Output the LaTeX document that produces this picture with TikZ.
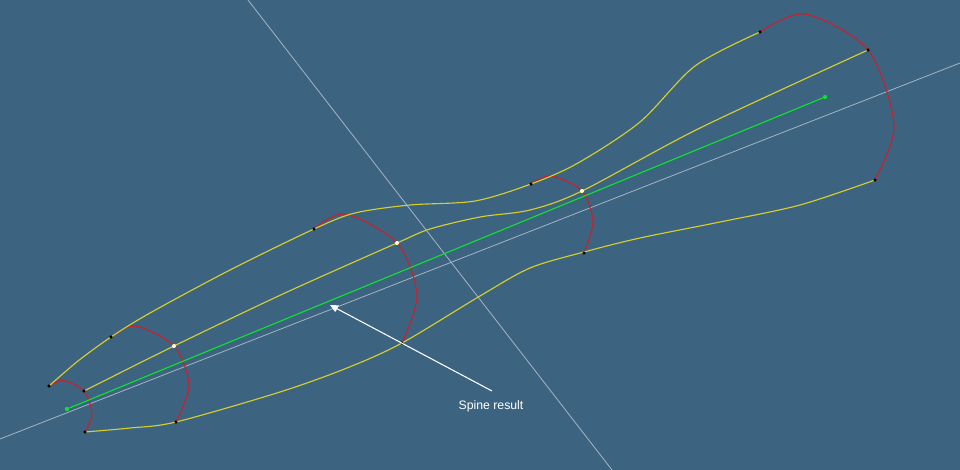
\documentclass[tikz,border=0pt]{standalone}
\usepackage{fontspec}
\setmainfont{Liberation Sans}
\usetikzlibrary{arrows.meta,positioning}
\definecolor{bgblue}{HTML}{3C6480}
\definecolor{railyel}{HTML}{D6CE2E}
\definecolor{secred}{HTML}{C8202E}
\definecolor{spinegrn}{HTML}{10E030}
\definecolor{axisgray}{HTML}{A4B4C4}
\tikzset{rail/.style={draw=railyel,line width=.85pt},sec/.style={draw=secred,line width=.85pt},axisline/.style={draw=axisgray,line width=.6pt},
dot/.style={circle,fill=black,inner sep=0pt,minimum size=2.6pt},wdot/.style={circle,fill=white!80!yellow,inner sep=0pt,minimum size=3pt},gdot/.style={circle,fill=spinegrn,inner sep=0pt,minimum size=3.2pt},arr/.style={-{Triangle[length=6pt,width=5.5pt]},draw=white,line width=.8pt}}

\begin{document}
\begin{tikzpicture}[x=.75pt,y=-.75pt]
\useasboundingbox[fill=bgblue](0,0)rectangle(960,470);
\coordinate(a1)at(0,439);\coordinate(a2)at(960,63);
\coordinate(b1)at(248,0);\coordinate(b2)at(612,470);
\draw[axisline](a1)--(a2);\draw[axisline](b1)--(b2);
% section points
\node[dot](t1)at(49,386){};\node[dot](m1)at(84,391){};\node[dot](u1)at(85,432){};
\node[dot](t2)at(111,337){};\node[wdot](m2)at(174,346){};\node[dot](u2)at(176,422){};
\node[dot](t3)at(314,229){};\node[wdot](m3)at(397,243){};\node[dot](u3)at(402,343){};
\node[dot](t4)at(531,184){};\node[wdot](m4)at(582,191){};\node[dot](u4)at(584,253){};
\node[dot](t5)at(760,32){};\node[dot](m5)at(868,50){};\node[dot](u5)at(875,180){};
% sections
\draw[sec]plot[smooth]coordinates{(49,386)(63,380.5)(84,391)(92,414)(85,432)};
\draw[sec]plot[smooth]coordinates{(111,337)(135,326)(174,346)(189,385)(176,422)};
\draw[sec]plot[smooth]coordinates{(314,229)(345,214)(397,243)(417,295)(402,343)};
\draw[sec]plot[smooth]coordinates{(531,184)(551,176)(582,191)(593,222)(584,253)};
\draw[sec]plot[smooth]coordinates{(760,32)(805,14)(868,50)(894,125)(875,180)};
% rails
\draw[rail]plot[smooth]coordinates{(49,386)(78,361)(111,337)(150,313)(230,270)(314,229)(355,213)(410,205)(475,201)(531,184)(578,163)(640,122)(695,66)(760,32)};
\draw[rail]plot[smooth]coordinates{(84,391)(174,346)(285,293)(397,243)(430,229)(480,217)(530,210)(582,191)(700,128)(868,50)};
\draw[rail]plot[smooth]coordinates{(85,432)(130,428)(176,422)(280,392)(347,368)(402,343)(480,296)(530,268)(584,252)(640,238)(720,222)(800,205)(875,180)};
\foreach\n in{t1,m1,u1,t2,m2,u2,t3,m3,u3,t4,m4,u4,t5,m5,u5}\node[dot,opacity=0]at(\n){};
\node[wdot]at(m2){};\node[wdot]at(m3){};\node[wdot]at(m4){};
\foreach\n in{t1,m1,u1,t2,u2,t3,u3,t4,u4,t5,m5,u5}\node[dot]at(\n){};
% spine
\node[gdot](s1)at(67,409){};\node[gdot](s2)at(825,97){};
\draw[draw=spinegrn,line width=.85pt](s1)--(s2);
\coordinate(tip)at(330,305);\coordinate(tail)at(492,391);
\draw[arr](tail)--(tip);
\node[text=white,font=\fontsize{9.2pt}{11pt}\selectfont,inner sep=0pt](lbl)at(491,406){Spine result};
\end{tikzpicture}
\end{document}
